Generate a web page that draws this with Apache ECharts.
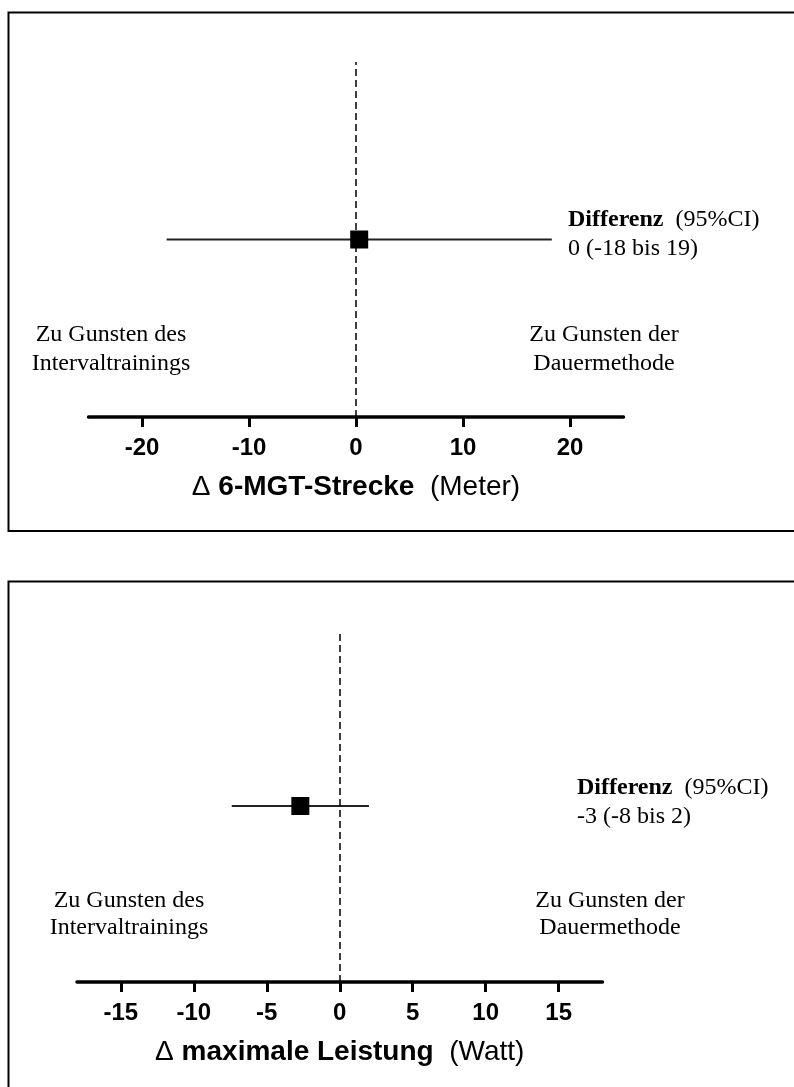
<!DOCTYPE html>
<html><head><meta charset="utf-8">
<script src="https://cdn.jsdelivr.net/npm/echarts@6/dist/echarts.min.js"></script>
<style>html,body{margin:0;padding:0;background:#fff}#c{width:794px;height:1087px}</style>
</head><body><div id="c"></div>
<script>
// ---- data ----
const outcomeNames = ['6-MGT-Strecke', 'maximale Leistung'];
const outcomeUnits = ['(Meter)', '(Watt)'];
const estimates = [0.3, -2.7];
const ciLower = [-17.7, -7.4];
const ciUpper = [18.3, 2.0];
const summaryTexts = ['0 (-18 bis 19)', '-3 (-8 bis 2)'];
const axisMins = [-25, -18];
const axisMaxs = [25, 18];
const tickValuesTop = [-20, -10, 0, 10, 20];
const tickValuesBottom = [-15, -10, -5, 0, 5, 10, 15];
const favourLeft = ['Zu Gunsten des', 'Intervaltrainings'];
const favourRight = ['Zu Gunsten der', 'Dauermethode'];
const headerBold = 'Differenz';
const headerRest = '(95%CI)';
const rowPosition = [0, 0];

// ---- layout ----
const SERIF = '"Liberation Serif", "Times New Roman", serif';
const SANS = '"Liberation Sans", Arial, sans-serif';
const grids = [
  { left: 88.5, width: 535, top: 62, height: 355 },
  { left: 77, width: 525.5, top: 630, height: 352 }
];
const tickSets = [tickValuesTop, tickValuesBottom];
const textPos = [
  { headX: 568, headY: 220, lineGap: 29, leftX: 111, rightX: 604, favY: 349.5, favLH: 29 },
  { headX: 577, headY: 788, lineGap: 29, leftX: 129, rightX: 610, favY: 914.5, favLH: 27 }
];

function renderCI(params, api) {
  const row = api.value(3);
  const lo = api.coord([api.value(0), row]);
  const hi = api.coord([api.value(1), row]);
  const mid = api.coord([api.value(2), row]);
  const s = 18;
  return {
    type: 'group',
    children: [
      { type: 'line', shape: { x1: lo[0], y1: lo[1], x2: hi[0], y2: hi[1] },
        style: { stroke: '#222', lineWidth: 2 } },
      { type: 'rect', shape: { x: mid[0] - s / 2, y: mid[1] - s / 2, width: s, height: s },
        style: { fill: '#000' } }
    ]
  };
}

const xAxes = [], yAxes = [], series = [], graphics = [];
for (let i = 0; i < 2; i++) {
  xAxes.push({
    type: 'value', gridIndex: i, min: axisMins[i], max: axisMaxs[i],
    name: `{d|Δ }{b|${outcomeNames[i]}}{n|  ${outcomeUnits[i]}}`,
    nameLocation: 'middle', nameGap: 56,
    nameTextStyle: {
      rich: {
        d: { fontFamily: SANS, fontSize: 28, color: '#000' },
        b: { fontFamily: SANS, fontSize: 28, fontWeight: 'bold', color: '#000' },
        n: { fontFamily: SANS, fontSize: 28, color: '#000' }
      }
    },
    axisLine: { show: true, onZero: false, lineStyle: { color: '#000', width: 3.5 } },
    axisTick: { show: true, length: 10, customValues: tickSets[i], lineStyle: { color: '#000', width: 3 } },
    axisLabel: { customValues: tickSets[i], margin: 19, fontFamily: SANS, fontSize: 24, fontWeight: 'bold', color: '#000' },
    splitLine: { show: false }
  });
  yAxes.push({
    type: 'value', gridIndex: i, min: -1, max: 1, show: false
  });
  series.push({
    type: 'custom', xAxisIndex: i, yAxisIndex: i,
    renderItem: renderCI,
    dimensions: ['lower', 'upper', 'estimate', 'row'],
    encode: { x: [0, 1, 2], y: 3 },
    data: [[ciLower[i], ciUpper[i], estimates[i], rowPosition[i]]],
    markLine: {
      silent: true, symbol: ['none', 'none'], label: { show: false },
      lineStyle: { type: [7, 4], width: 1.5, color: '#000' },
      data: [{ xAxis: 0 }]
    },
    z: 3
  });
  const tp = textPos[i];
  graphics.push({
    type: 'text', style: {
      text: `{b|${headerBold}}{n|  ${headerRest}}`, x: tp.headX, y: tp.headY,
      align: 'left', verticalAlign: 'middle',
      rich: {
        b: { fontFamily: SERIF, fontSize: 24, fontWeight: 'bold', fill: '#000' },
        n: { fontFamily: SERIF, fontSize: 24, fill: '#000' }
      }
    }
  });
  graphics.push({
    type: 'text', style: {
      text: summaryTexts[i], x: tp.headX, y: tp.headY + tp.lineGap,
      fontFamily: SERIF, fontSize: 24, fill: '#000', align: 'left', verticalAlign: 'middle'
    }
  });
  graphics.push({
    type: 'text', style: {
      text: favourLeft.join('\n'), x: tp.leftX, y: tp.favY, lineHeight: tp.favLH,
      fontFamily: SERIF, fontSize: 24, fill: '#000', align: 'center', verticalAlign: 'middle'
    }
  });
  graphics.push({
    type: 'text', style: {
      text: favourRight.join('\n'), x: tp.rightX, y: tp.favY, lineHeight: tp.favLH,
      fontFamily: SERIF, fontSize: 24, fill: '#000', align: 'center', verticalAlign: 'middle'
    }
  });
}
graphics.push({ type: 'rect', shape: { x: 8.5, y: 12.5, width: 800, height: 518.5 },
  style: { fill: 'none', stroke: '#000', lineWidth: 2 } });
graphics.push({ type: 'rect', shape: { x: 8.5, y: 581.5, width: 800, height: 600 },
  style: { fill: 'none', stroke: '#000', lineWidth: 2 } });

const chart = echarts.init(document.getElementById('c'), null, { renderer: 'canvas' });
chart.setOption({
  animation: false,
  backgroundColor: '#fff',
  grid: grids.map(g => Object.assign({ containLabel: false }, g)),
  xAxis: xAxes,
  yAxis: yAxes,
  series: series,
  graphic: graphics
});
</script></body></html>
